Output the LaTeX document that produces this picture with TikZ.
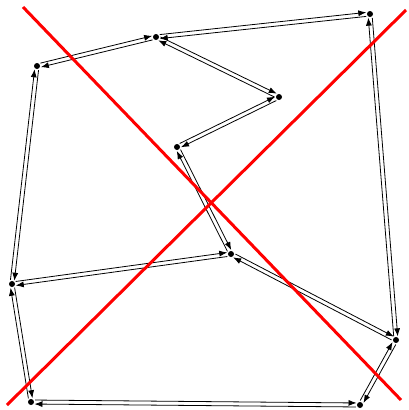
\documentclass[tikz,border=0pt]{standalone}
\usetikzlibrary{arrows.meta,calc}
\tikzset{dot/.style={circle,fill=black,inner sep=0pt,minimum size=6pt},arr/.style={-{Latex[length=8pt,width=6pt]},line width=0.8pt,shorten <=4pt,shorten >=3.5pt},cross/.style={red,line width=3pt}}

\begin{document}
\begin{tikzpicture}[x=1pt,y=-1pt]
\useasboundingbox (0,0) rectangle (408,410);
\node[dot] (a) at (370,14) {}; \node[dot] (b) at (156,37) {}; \node[dot] (c) at (37,66) {};
\node[dot] (d) at (279,97) {}; \node[dot] (e) at (177,147) {}; \node[dot] (f) at (231,254) {};
\node[dot] (g) at (12,284) {}; \node[dot] (h) at (396,340) {}; \node[dot] (i) at (31,402) {};
\node[dot] (j) at (360,405) {};
% each link is a pair of opposite arrows
\foreach \p/\q in {a/b,b/c,b/d,d/e,e/f,f/g,f/h,a/h,c/g,g/i,i/j,j/h}{
  \draw[arr] ($(\p.center)!2pt!90:(\q.center)$)--($(\q.center)!2pt!-90:(\p.center)$);
  \draw[arr] ($(\q.center)!2pt!90:(\p.center)$)--($(\p.center)!2pt!-90:(\q.center)$);
}
\coordinate (tl) at (23,7); \coordinate (br) at (401,400);
\coordinate (bl) at (7,405); \coordinate (tr) at (406,10);
\draw[cross] (tl)--(br); \draw[cross] (bl)--(tr);
\end{tikzpicture}
\end{document}
